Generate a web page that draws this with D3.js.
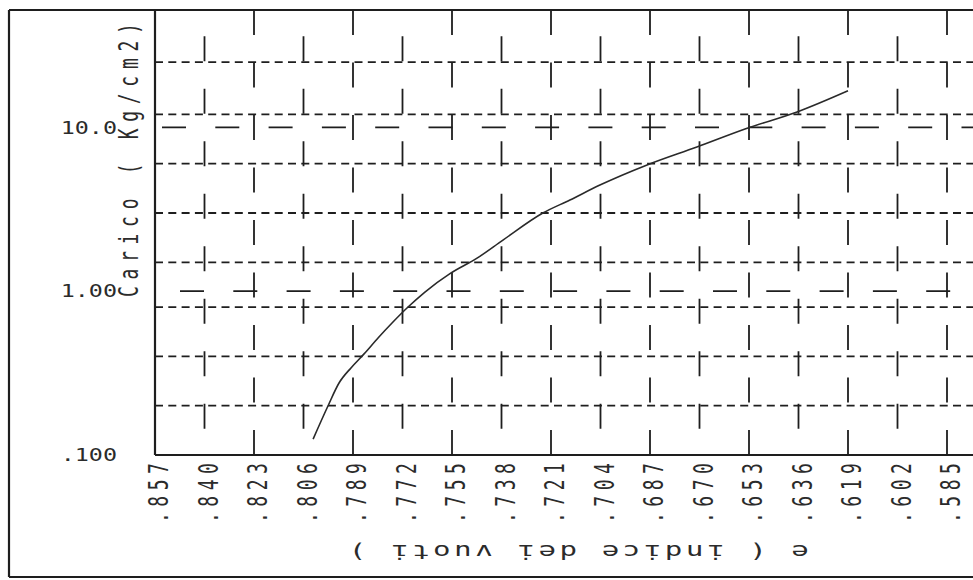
<!DOCTYPE html>
<html lang="it">
<head>
<meta charset="utf-8">
<title>Carico - indice dei vuoti</title>
<script src="https://cdn.jsdelivr.net/npm/d3@7"></script>
<style>
  body { margin: 0; background: #fff; }
  svg { display: block; }
  text { font-family: "DejaVu Sans Mono", "Liberation Mono", monospace; fill: #2b2b2b; }
</style>
</head>
<body>
<svg id="chart" width="973" height="580"></svg>
<script>
// --- valori ---
const xTickLabels = [".857", ".840", ".823", ".806", ".789", ".772", ".755", ".738", ".721",
                     ".704", ".687", ".670", ".653", ".636", ".619", ".602", ".585"];
const xTicks = xTickLabels.map(Number);

const yTickLabels = [".100", "1.00", "10.0"];
const yTicks = [0.1, 1, 10];

// linee tratteggiate orizzontali (carichi) e linee delle decadi
const gridLoads = [0.2, 0.4, 0.8, 1.5, 3, 6, 12, 25];
const decadeLoads = [1, 10];

// curva e - log p
const curveE = [.8027, .7976, .7938, .7897, .7852, .7804, .7756, .7701, .7643, .7557,
                .7464, .7375, .7238, .7145, .7042, .6880, .6709, .6534, .6365, .6190];
const curveP = [0.125, 0.199, 0.275, 0.340, 0.414, 0.518, 0.639, 0.80, 0.988, 1.28,
                1.59, 2.05, 3.0, 3.6, 4.44, 5.89, 7.58, 9.9, 12.4, 16.7];

const xTitle = "e ( indice dei vuoti )";
const yTitle = "Carico ( Kg/cm2)";

// --- layout ---
const width = 973, height = 580;
const frame = { left: 9, top: 10, bottom: 577 };
const plot = { left: 155, top: 10, bottom: 455, right: 947 };
const ink = "#1e1e1e";
const decadePhase = { 1: 28.3, 10: 46.3 };

const svg = d3.select("#chart");

const x = d3.scaleLinear()
    .domain([xTicks[0], xTicks[xTicks.length - 1]])
    .range([plot.left, plot.right]);

const y = d3.scaleLog()
    .domain([0.1, 52])
    .range([plot.bottom, plot.top]);

// griglia verticale a mattoni: colonne alterne sfasate di mezzo passo
svg.append("g")
  .selectAll("line")
  .data(xTicks.slice(1))
  .join("line")
    .attr("x1", d => x(d))
    .attr("x2", d => x(d))
    .attr("y1", plot.top)
    .attr("y2", plot.bottom)
    .attr("stroke", ink)
    .attr("stroke-width", 1.8)
    .attr("stroke-dasharray", "25 27.5")
    .attr("stroke-dashoffset", (d, i) => (i % 2 === 0 ? 26.25 : 0));

// linee tratteggiate corte
svg.append("g")
  .selectAll("line")
  .data(gridLoads)
  .join("line")
    .attr("x1", plot.left)
    .attr("x2", width)
    .attr("y1", d => y(d))
    .attr("y2", d => y(d))
    .attr("stroke", ink)
    .attr("stroke-width", 1.8)
    .attr("stroke-dasharray", "8 5.3");

// linee delle decadi (tratto lungo)
svg.append("g")
  .selectAll("line")
  .data(decadeLoads)
  .join("line")
    .attr("x1", plot.left)
    .attr("x2", width)
    .attr("y1", d => y(d))
    .attr("y2", d => y(d))
    .attr("stroke", ink)
    .attr("stroke-width", 1.8)
    .attr("stroke-dasharray", "24 29.3")
    .attr("stroke-dashoffset", d => decadePhase[d]);

// assi e cornice
const border = svg.append("g").attr("stroke", ink).attr("stroke-width", 2.2).attr("fill", "none");
border.append("line").attr("x1", frame.left).attr("x2", width).attr("y1", frame.top).attr("y2", frame.top);
border.append("line").attr("x1", frame.left).attr("x2", frame.left).attr("y1", frame.top).attr("y2", frame.bottom);
border.append("line").attr("x1", frame.left).attr("x2", width).attr("y1", frame.bottom).attr("y2", frame.bottom);
border.append("line").attr("x1", plot.left).attr("x2", plot.left).attr("y1", plot.top).attr("y2", plot.bottom);
border.append("line").attr("x1", plot.left).attr("x2", width).attr("y1", plot.bottom).attr("y2", plot.bottom);

// curva
const pts = curveE.map((e, i) => [e, curveP[i]]);
const line = d3.line()
    .x(d => x(d[0]))
    .y(d => y(d[1]))
    .curve(d3.curveMonotoneX);

svg.append("path")
    .datum(pts)
    .attr("d", line)
    .attr("fill", "none")
    .attr("stroke", "#2a2a2a")
    .attr("stroke-width", 1.6);

// etichette asse y
svg.append("g")
  .selectAll("text")
  .data(yTicks)
  .join("text")
    .attr("transform", d => `translate(117,${y(d)}) scale(1.3,1)`)
    .attr("text-anchor", "end")
    .attr("dy", "0.35em")
    .attr("font-size", 18)
    .text((d, i) => yTickLabels[i]);

// etichette asse x (ruotate)
svg.append("g")
  .selectAll("text")
  .data(xTicks)
  .join("text")
    .attr("transform", d => `translate(${x(d) + 4},523) rotate(-90) scale(1,1.45)`)
    .attr("text-anchor", "start")
    .attr("dy", "0.35em")
    .attr("font-size", 18)
    .attr("letter-spacing", 5.5)
    .text((d, i) => xTickLabels[i]);

// titoli
svg.append("text")
    .attr("transform", "translate(138,297) rotate(-90) scale(1,1.45)")
    .attr("text-anchor", "start")
    .attr("font-size", 18)
    .attr("letter-spacing", 6.7)
    .text(yTitle);

svg.append("text")
    .attr("transform", "translate(577,552) rotate(180) scale(1.45,1)")
    .attr("text-anchor", "middle")
    .attr("dy", "0.35em")
    .attr("font-size", 20)
    .attr("letter-spacing", 2.5)
    .text(xTitle);
</script>
</body>
</html>
